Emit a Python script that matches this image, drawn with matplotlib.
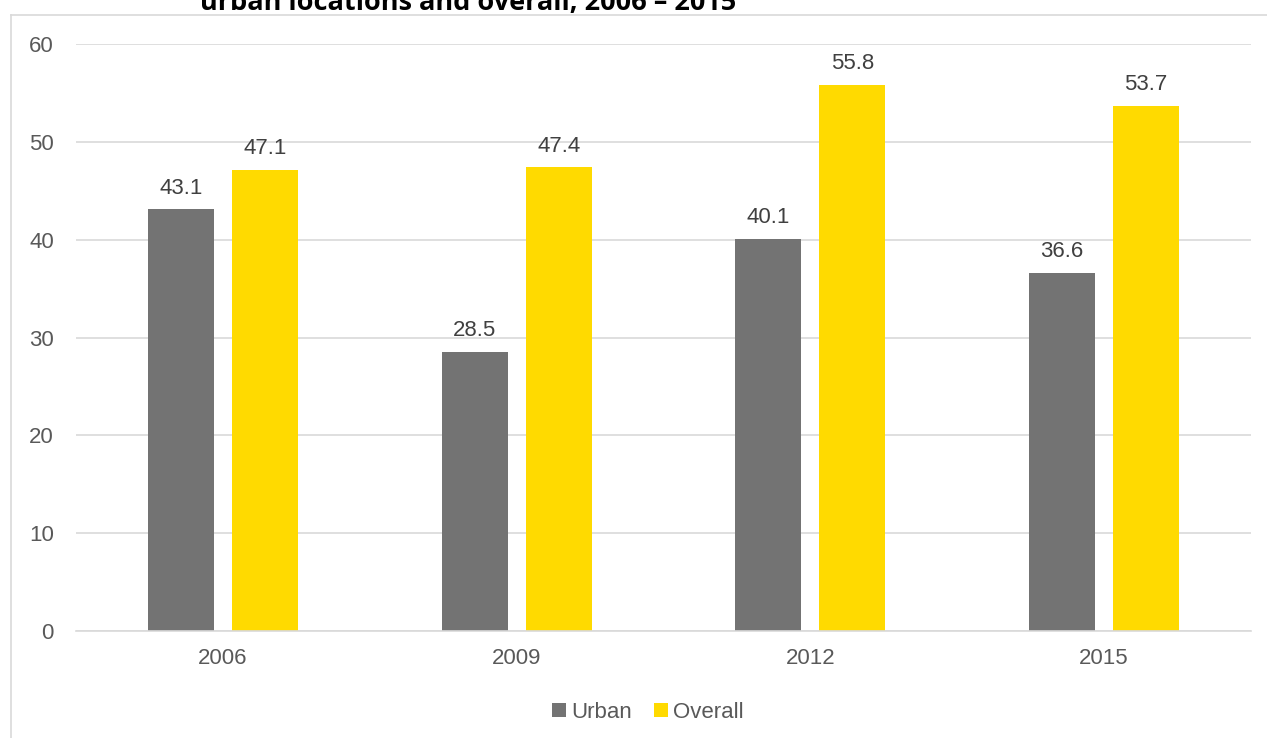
import matplotlib.pyplot as plt
import numpy as np
from matplotlib.lines import Line2D

years = ["2006", "2009", "2012", "2015"]
urban = [43.1, 28.5, 40.1, 36.6]
overall = [47.1, 47.4, 55.8, 53.7]

gray = "#737373"
yellow = "#FFDA00"
txt = "#595959"

plt.rcParams["font.family"] = ["Liberation Sans", "DejaVu Sans"]

fig = plt.figure(figsize=(12.67, 7.38), dpi=100)
ax = fig.add_axes([76/1267, 1-631/738, (1251-76)/1267, (631-44)/738])

x = np.arange(len(years))
w = 0.225
off = 0.143
b1 = ax.bar(x-off, urban, w, color=gray, label="Urban")
b2 = ax.bar(x+off, overall, w, color=yellow, label="Overall")

for bars in (b1, b2):
    for r in bars:
        ax.text(r.get_x()+r.get_width()/2, r.get_height()+1.1, f"{r.get_height():.1f}",
                ha="center", va="bottom", fontsize=16, color="#404040")

ax.set_xlim(-0.5, len(years)-0.5)
ax.set_ylim(0, 60)
ax.set_yticks(range(0, 61, 10))
ax.set_xticks(x)
ax.set_xticklabels(years)
ax.tick_params(axis="both", length=0, labelsize=16, colors=txt)
ax.tick_params(axis="y", pad=16)
ax.tick_params(axis="x", pad=12)
ax.grid(axis="y", color="#D9D9D9", linewidth=1.2)
ax.set_axisbelow(True)
for s in ["top", "right", "left"]:
    ax.spines[s].set_visible(False)
ax.spines["bottom"].set_color("#D9D9D9")
ax.spines["bottom"].set_linewidth(1.2)

leg = fig.legend(handles=[b1, b2], loc="center", bbox_to_anchor=(648/1267, 1-712/738),
                 ncol=2, frameon=False, fontsize=16, handlelength=0.6, handleheight=0.6,
                 handletextpad=0.25, columnspacing=1.0)
for t in leg.get_texts():
    t.set_color(txt)

# chart frame (partly outside image)
fig.add_artist(Line2D([11/1267, 11/1267], [1-15/738, 0], color="#D9D9D9", lw=1.2))
fig.add_artist(Line2D([11/1267, 1], [1-15/738, 1-15/738], color="#D9D9D9", lw=1.2))

# title, cropped at the top edge as in the original
fig.text(200/1267, 1-10/738, "urban locations and overall, 2006 \u2013 2015",
         fontsize=19.5, fontweight="bold", family=["Open Sans", "DejaVu Sans"],
         ha="left", va="baseline", color="black")

fig.savefig("out.png", dpi=100)
